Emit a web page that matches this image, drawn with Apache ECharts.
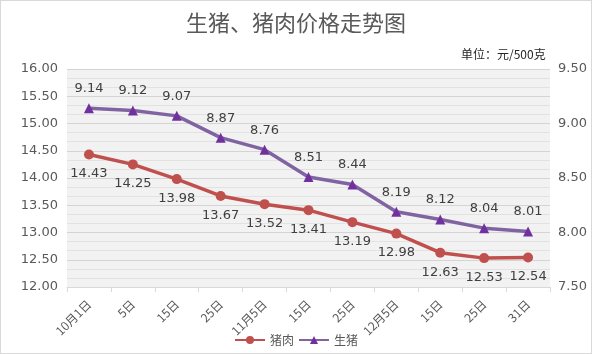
<!DOCTYPE html>
<html>
<head>
<meta charset="utf-8">
<script src="https://cdn.jsdelivr.net/npm/echarts@6/dist/echarts.min.js"></script>
<style>
  html, body { margin: 0; padding: 0; background: #fff; }
  #chart { width: 590px; height: 352px; border: 1px solid #d9d9d9; }
</style>
</head>
<body>
<div id="chart"></div>
<script>
const categories = ["10月1日", "5日", "15日", "25日", "11月5日", "15日", "25日", "12月5日", "15日", "25日", "31日"];
const porkPrices = [14.43, 14.25, 13.98, 13.67, 13.52, 13.41, 13.19, 12.98, 12.63, 12.53, 12.54];
const hogPrices = [9.14, 9.12, 9.07, 8.87, 8.76, 8.51, 8.44, 8.19, 8.12, 8.04, 8.01];

const chart = echarts.init(document.getElementById("chart"));

const axisText = { color: "#595959", fontSize: 13, fontFamily: "DejaVu Sans" };

const option = {
  backgroundColor: "#fff",
  title: [
    {
      text: "生猪、猪肉价格走势图",
      left: "center",
      top: 6,
      textStyle: { color: "#595959", fontSize: 22, fontWeight: "normal", fontFamily: "Noto Sans CJK SC" }
    },
    {
      text: "单位：元/500克",
      left: 455,
      top: 42,
      textStyle: { color: "#262626", fontSize: 12, fontWeight: "normal", fontFamily: "Noto Sans CJK SC" }
    }
  ],
  legend: {
    bottom: 2,
    left: "center",
    itemWidth: 30,
    itemHeight: 10,
    itemGap: 4,
    textStyle: { color: "#595959", fontSize: 12, fontFamily: "Noto Sans CJK SC" },
    data: ["猪肉", "生猪"]
  },
  grid: { left: 66, right: 41, top: 68, bottom: 66 },
  xAxis: {
    type: "category",
    data: categories,
    boundaryGap: true,
    axisLine: { lineStyle: { color: "#d9d9d9" } },
    axisTick: { show: true, length: 5, lineStyle: { color: "#d9d9d9" } },
    axisLabel: {
      rotate: 45,
      interval: 0,
      color: "#595959",
      fontSize: 12,
      fontFamily: "Noto Sans CJK SC",
      margin: 15
    }
  },
  yAxis: [
    {
      type: "value",
      min: 12,
      max: 16,
      interval: 0.5,
      axisLine: { show: false },
      axisTick: { show: false },
      axisLabel: Object.assign({ formatter: v => v.toFixed(2), margin: 9 }, axisText),
      splitLine: { lineStyle: { color: "#d4d4d4", width: 1 } },
      minorTick: { show: false, splitNumber: 3 },
      minorSplitLine: { show: true, lineStyle: { color: "#e2e2e2", width: 1 } },
      splitArea: { show: true, areaStyle: { color: ["#f2f2f2", "#f2f2f2"] } }
    },
    {
      type: "value",
      min: 7.5,
      max: 9.5,
      interval: 0.5,
      axisLine: { show: false },
      axisTick: { show: false },
      axisLabel: Object.assign({ formatter: v => v.toFixed(2), margin: 8 }, axisText),
      splitLine: { show: false }
    }
  ],
  series: [
    {
      name: "猪肉",
      type: "line",
      yAxisIndex: 0,
      data: porkPrices,
      symbol: "circle",
      symbolSize: 10,
      lineStyle: { color: "#c0504d", width: 3.5 },
      itemStyle: { color: "#c0504d" },
      label: {
        show: true,
        position: "bottom",
        distance: 8,
        color: "#404040",
        fontSize: 13,
        fontFamily: "DejaVu Sans",
        formatter: p => p.value.toFixed(2)
      }
    },
    {
      name: "生猪",
      type: "line",
      yAxisIndex: 1,
      data: hogPrices,
      symbol: "triangle",
      symbolSize: 10,
      lineStyle: { color: "#8064a2", width: 3.5 },
      itemStyle: { color: "#7030a0" },
      label: {
        show: true,
        position: "top",
        distance: 8,
        color: "#404040",
        fontSize: 13,
        fontFamily: "DejaVu Sans",
        formatter: p => p.value.toFixed(2)
      }
    }
  ]
};

chart.setOption(option);
</script>
</body>
</html>
